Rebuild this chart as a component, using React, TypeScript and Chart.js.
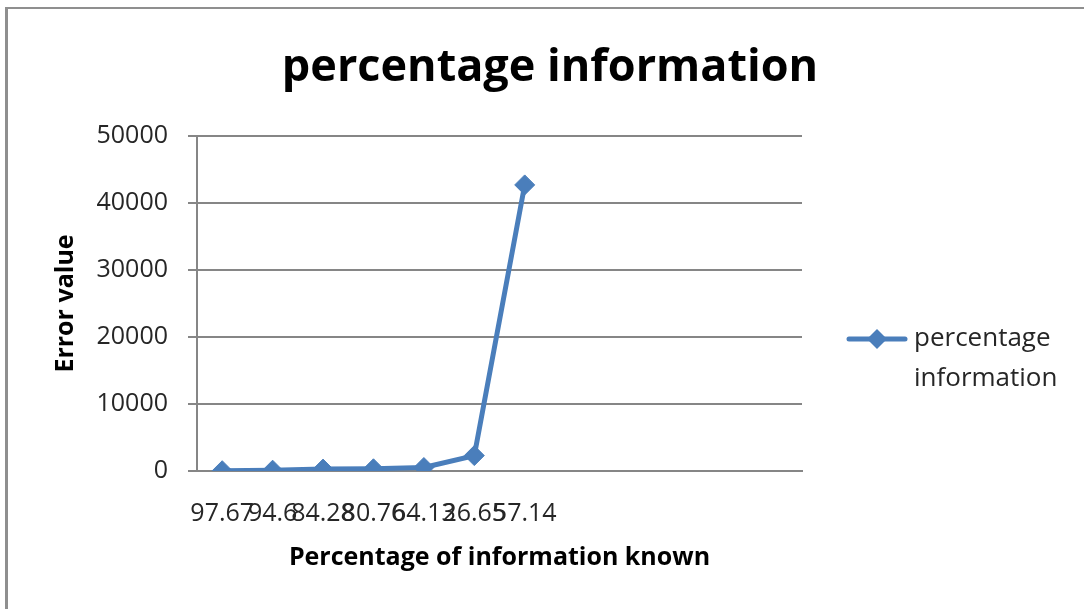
import React, { useEffect, useRef } from "react";
import { Chart, registerables } from "chart.js";

Chart.register(...registerables);

const chartTitle = "percentage information";
const seriesName = "percentage information";
const xAxisTitle = "Percentage of information known";
const yAxisTitle = "Error value";
const categories = ["97.67", "94.6", "84.28", "80.76", "64.13", "26.65", "57.14", "", "", "", "", ""];
const errorValues = [40, 120, 280, 330, 520, 2300, 42700, null, null, null, null, null];
const yMin = 0;
const yMax = 50000;
const yStep = 10000;

const FONT = "'Open Sans', 'Noto Sans', sans-serif";
const LINE_COLOR = "#4a7ebb";
const AXIS_COLOR = "#868686";
const TEXT_COLOR = "#262626";

export default function App() {
  const ref = useRef<HTMLCanvasElement | null>(null);

  useEffect(() => {
    const canvas = ref.current;
    if (!canvas) return;

    const decor = {
      id: "decor",
      beforeDraw(chart: any) {
        const ctx = chart.ctx;
        ctx.save();
        ctx.fillStyle = "#ffffff";
        ctx.fillRect(0, 0, chart.width, chart.height);
        ctx.fillStyle = "#8f8f8f";
        ctx.fillRect(5, 7, chart.width - 5, 2);
        ctx.fillRect(5, 7, 3, chart.height - 7);
        ctx.restore();
      },
      afterDraw(chart: any) {
        const ctx = chart.ctx;
        ctx.save();
        // title
        ctx.fillStyle = "#000000";
        ctx.font = `bold 45px ${FONT}`;
        ctx.textAlign = "center";
        ctx.textBaseline = "alphabetic";
        ctx.fillText(chartTitle, 550, 81);
        // legend
        const ly = 339;
        ctx.strokeStyle = LINE_COLOR;
        ctx.lineWidth = 5;
        ctx.lineCap = "round";
        ctx.beginPath();
        ctx.moveTo(849, ly);
        ctx.lineTo(905, ly);
        ctx.stroke();
        ctx.fillStyle = LINE_COLOR;
        ctx.beginPath();
        ctx.moveTo(877, ly - 10);
        ctx.lineTo(887, ly);
        ctx.lineTo(877, ly + 10);
        ctx.lineTo(867, ly);
        ctx.closePath();
        ctx.fill();
        ctx.fillStyle = TEXT_COLOR;
        ctx.font = `26px ${FONT}`;
        ctx.textAlign = "left";
        ctx.textBaseline = "middle";
        const words = seriesName.split(" ");
        ctx.fillText(words[0], 914, ly);
        ctx.fillText(words.slice(1).join(" "), 914, ly + 40);
        ctx.restore();
      },
    };

    const chart = new Chart(canvas, {
      type: "line",
      data: {
        labels: categories,
        datasets: [
          {
            label: seriesName,
            data: errorValues,
            borderColor: LINE_COLOR,
            backgroundColor: LINE_COLOR,
            borderWidth: 5,
            pointStyle: "rectRot",
            pointRadius: 10,
            pointBorderWidth: 1,
            pointBackgroundColor: LINE_COLOR,
            pointBorderColor: LINE_COLOR,
            tension: 0,
            spanGaps: false,
          },
        ],
      },
      options: {
        responsive: false,
        animation: false,
        layout: { padding: { left: 0, top: 136, right: 282, bottom: 0 } },
        plugins: {
          legend: { display: false },
          title: { display: false },
          tooltip: { enabled: false },
        },
        scales: {
          x: {
            offset: true,
            grid: { display: false, drawTicks: false },
            border: { display: true, color: AXIS_COLOR, width: 2 },
            ticks: {
              autoSkip: false,
              maxRotation: 0,
              minRotation: 0,
              padding: 28,
              color: TEXT_COLOR,
              font: { family: FONT, size: 25 },
            },
            title: {
              display: true,
              text: xAxisTitle,
              color: "#000000",
              font: { family: FONT, size: 25, weight: "bold" },
              padding: { top: 0, bottom: 36 },
            },
            afterFit: (s: any) => {
              s.height = 138;
            },
          },
          y: {
            min: yMin,
            max: yMax,
            grid: { color: AXIS_COLOR, lineWidth: 2, tickLength: 9, drawTicks: true },
            border: { display: true, color: AXIS_COLOR, width: 2 },
            ticks: {
              stepSize: yStep,
              padding: 20,
              color: TEXT_COLOR,
              font: { family: FONT, size: 25 },
              callback: (v: any) => String(v),
            },
            title: {
              display: true,
              text: yAxisTitle,
              color: "#000000",
              font: { family: FONT, size: 25, weight: "bold" },
              padding: { top: 51, bottom: 0 },
            },
            afterFit: (s: any) => {
              s.width = 197;
            },
          },
        },
      },
      plugins: [decor],
    } as any);

    return () => chart.destroy();
  }, []);

  return (
    <div style={{ position: "fixed", left: 0, top: 0, width: 1084, height: 609, background: "#fff" }}>
      <canvas ref={ref} width={1084} height={609} style={{ width: 1084, height: 609, display: "block" }} />
    </div>
  );
}
